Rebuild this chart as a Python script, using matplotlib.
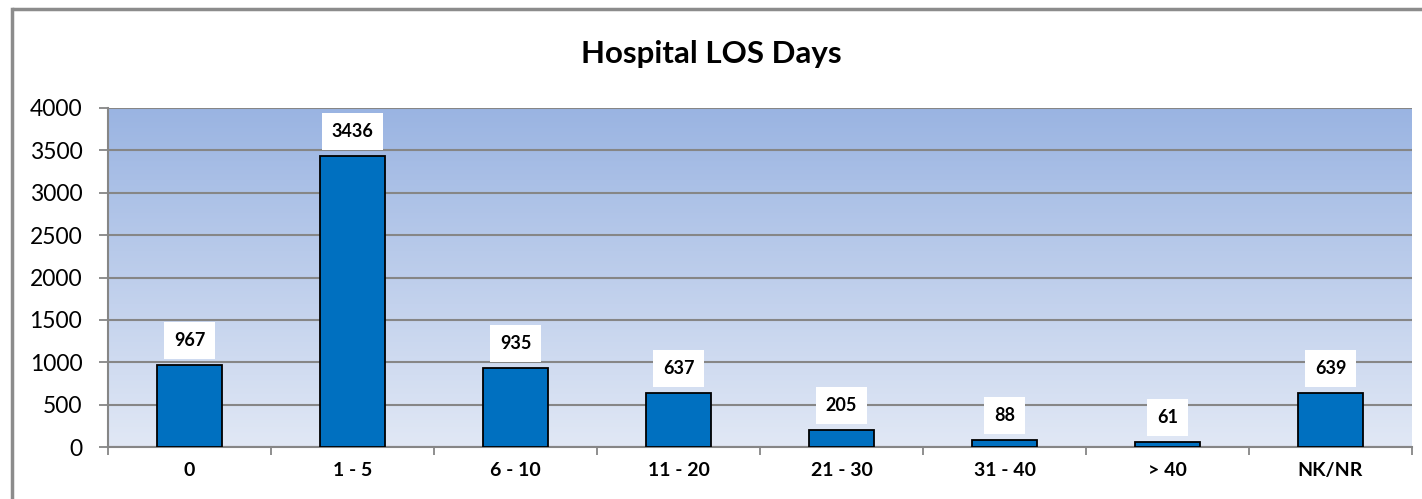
import numpy as np
import matplotlib
matplotlib.use('Agg')
import matplotlib.pyplot as plt
from matplotlib.colors import LinearSegmentedColormap
from matplotlib.lines import Line2D

# data
categories = ['0', '1 - 5', '6 - 10', '11 - 20', '21 - 30', '31 - 40', '> 40', 'NK/NR']
values = [967, 3436, 935, 637, 205, 88, 61, 639]

plt.rcParams['font.family'] = ['Lato', 'DejaVu Sans']

fig = plt.figure(figsize=(14.22, 4.99), dpi=100)
ax = fig.add_axes([108 / 1422, 1 - 447 / 499, (1412 - 108) / 1422, (447 - 108) / 499])

# outer chart border (only top and left edges are visible in the reference)
bx, by = 11.5 / 1422, 1 - 8.5 / 499
fig.lines.append(Line2D([bx, 1.01], [by, by], transform=fig.transFigure,
                        color='#8c8c8c', linewidth=2.5, solid_capstyle='butt'))
fig.lines.append(Line2D([bx, bx], [-0.01, by], transform=fig.transFigure,
                        color='#8c8c8c', linewidth=2.5, solid_capstyle='projecting'))

# gradient plot-area background
grad = LinearSegmentedColormap.from_list('bg', ['#e1e8f5', '#9ab4e2'])
ax.imshow(np.linspace(0, 1, 256).reshape(-1, 1), cmap=grad, origin='lower',
          extent=[0, 1, 0, 1], transform=ax.transAxes, aspect='auto', zorder=0)

x = np.arange(len(categories))
ax.bar(x, values, width=0.4, color='#0070c0', edgecolor='black', linewidth=1.3, zorder=3)

for xi, v in zip(x, values):
    ax.annotate(str(v), (xi, v), xytext=(0, 17.5), textcoords='offset points',
                ha='center', va='center', fontsize=13, fontweight='bold',
                bbox=dict(boxstyle='square,pad=0.55', fc='white', ec='none'), zorder=4)

ax.set_xlim(-0.5, len(categories) - 0.5)
ax.set_ylim(0, 4000)
ax.set_yticks(range(0, 4001, 500))
ax.tick_params(axis='y', labelsize=16.5, length=6.5, width=1.3, color='#868686', pad=12)
ax.set_xticks(np.arange(-0.5, len(categories)), minor=False)
ax.set_xticklabels([])
ax.set_xticks(x, minor=True)
ax.set_xticklabels(categories, minor=True, fontsize=14, fontweight='bold')
ax.tick_params(axis='x', which='major', length=6, width=1.3, color='#868686')
ax.tick_params(axis='x', which='minor', length=0, pad=11)

ax.yaxis.grid(True, color='#868686', linewidth=1.5, zorder=1)
ax.set_axisbelow(True)
for s in ['top', 'right']:
    ax.spines[s].set_visible(False)
for s in ['left', 'bottom']:
    ax.spines[s].set_color('#868686')
    ax.spines[s].set_linewidth(1.5)

fig.text(0.5, 1 - 54 / 499, 'Hospital LOS Days', ha='center', va='center',
         fontsize=22.5, fontweight='bold')

fig.savefig('out.png', dpi=100)
